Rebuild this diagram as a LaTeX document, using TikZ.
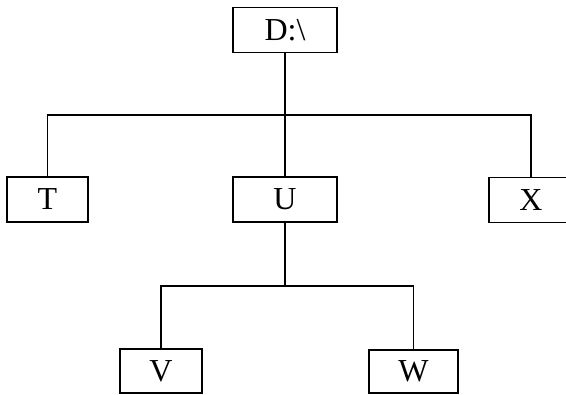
\documentclass[tikz,border=0pt]{standalone}
\usepackage{fontspec}
\setmainfont{Liberation Serif}
\begin{document}
\begin{tikzpicture}[x=1pt,y=-1pt,line width=1.2pt,
  dirbox/.style={draw,rectangle,inner sep=0pt,font=\fontsize{32}{34}\selectfont}]
\useasboundingbox (0,0) rectangle (566,395);
\clip (0,0) rectangle (566,395);
\node[dirbox,minimum width=104,minimum height=45] (D) at (285,30) {D:\textbackslash};
\node[dirbox,minimum width=81,minimum height=45] (T) at (47.5,199.5) {T};
\node[dirbox,minimum width=104,minimum height=45] (U) at (285,199.5) {U};
\node[dirbox,minimum width=84,minimum height=45] (X) at (531,200) {X};
\node[dirbox,minimum width=82,minimum height=44] (V) at (161,371) {V};
\node[dirbox,minimum width=89,minimum height=43] (W) at (413.5,371.5) {W};
\coordinate (j1) at (285,115);
\coordinate (j2) at (285,286);
\draw (D.south) -- (j1);
\draw (j1) -| (T.north);
\draw (j1) -| (X.north);
\draw (j1) -- (U.north);
\draw (U.south) -- (j2);
\draw (j2) -| (V.north);
\draw (j2) -| (W.north);
\end{tikzpicture}
\end{document}
